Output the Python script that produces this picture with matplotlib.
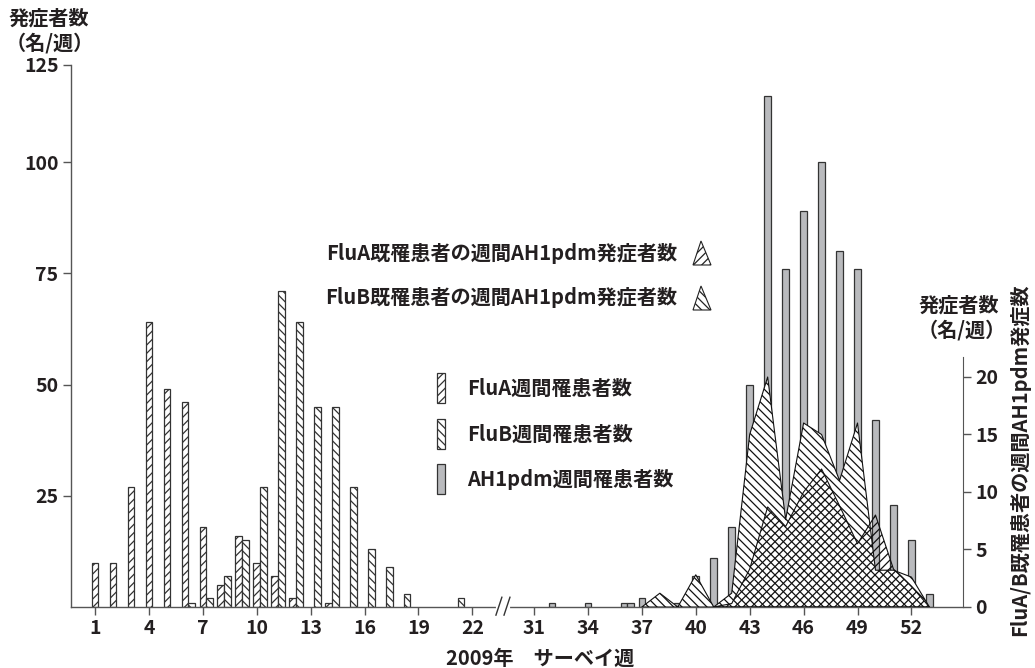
import matplotlib.pyplot as plt
from matplotlib.patches import Rectangle, Polygon
import numpy as np

plt.rcParams['font.family'] = ['Noto Sans CJK JP', 'DejaVu Sans']
plt.rcParams['font.weight'] = 'bold'
plt.rcParams['hatch.linewidth'] = 0.9

# weekly counts (2009 surveillance weeks)
flua_weeks = [1, 2, 3, 4, 5, 6, 7, 8, 9, 10, 11, 12, 14]
flua_cases = [10, 10, 27, 64, 49, 46, 18, 5, 16, 10, 7, 2, 1]
flub_weeks = [6, 7, 8, 9, 10, 11, 12, 13, 14, 15, 16, 17, 18, 21]
flub_cases = [1, 2, 7, 15, 27, 71, 64, 45, 45, 27, 13, 9, 3, 2]
ah1_weeks = [32, 34, 36, 37, 38, 39, 40, 41, 42, 43, 44, 45, 46, 47, 48, 49, 50, 51, 52, 53]
ah1_cases = [1, 1, 1, 2, 2, 1, 7, 11, 18, 50, 117, 76, 89, 100, 80, 76, 42, 23, 15, 3]
ah1_extra_weeks = [36]
ah1_extra_cases = [1]

# AH1pdm onset among previously infected (right axis)
after_b_weeks = list(range(37, 54))
after_b_cases = [0, 1.2, 0, 2.8, 0, 1.2, 15, 20, 7.6, 16, 15, 11, 16, 3.2, 3.2, 2.6, 0]
after_a_weeks = list(range(41, 54))
after_a_cases = [0, 0.3, 3.3, 8.7, 7, 10, 12, 8.8, 5.5, 8, 3.3, 1.8, 0]

tick_weeks = [1, 4, 7, 10, 13, 16, 19, 22, 31, 34, 37, 40, 43, 46, 49, 52]

GAP = 3.43   # axis break between week 22 and 31
BW = 0.37
K = 97 / 111  # top part of left axis is compressed


def week_pos(w):
    w = np.asarray(w, dtype=float)
    return np.where(w <= 22, w, w - 31 + 22 + GAP)


def fwd(y):
    y = np.asarray(y, dtype=float)
    return np.where(y <= 100, y, 100 + (y - 100) * K)


def inv(v):
    v = np.asarray(v, dtype=float)
    return np.where(v <= 100, v, 100 + (v - 100) / K)


W, H = 1035, 668


def px(x, y):
    return x / W, 1 - y / H


TXT = '#231f20'
EDGE = '#333333'
GRAY = '#b9babd'
HA = '////'
HB = '\\\\\\\\'

fig = plt.figure(figsize=(W / 100, H / 100), dpi=100)
ax = fig.add_axes([71 / W, 61 / H, 892 / W, 542 / H])
ax.set_yscale('function', functions=(fwd, inv))

ax.bar(week_pos(flua_weeks), flua_cases, width=BW, facecolor='white',
       edgecolor=EDGE, hatch=HA, lw=0.9)
ax.bar(week_pos(flub_weeks) + BW, flub_cases, width=BW, facecolor='white',
       edgecolor=EDGE, hatch=HB, lw=0.9)
ax.bar(week_pos(ah1_weeks), ah1_cases, width=BW, facecolor=GRAY,
       edgecolor=EDGE, lw=0.9)
ax.bar(week_pos(ah1_extra_weeks) + BW, ah1_extra_cases, width=BW,
       facecolor=GRAY, edgecolor=EDGE, lw=0.9)

ax.set_xlim(-0.336, 49.3)
ax.set_ylim(0, 125)
ax.set_yticks([25, 50, 75, 100, 125])
ax.set_yticklabels(['25', '50', '75', '100', '125'])
ax.set_xticks(week_pos(tick_weeks))
ax.set_xticklabels([str(w) for w in tick_weeks])
ax.tick_params(axis='both', labelsize=14, length=6, width=1,
               color='#555555', labelcolor=TXT, pad=3)
for s in ['top', 'right']:
    ax.spines[s].set_visible(False)
for s in ['left', 'bottom']:
    ax.spines[s].set_color('#555555')
    ax.spines[s].set_linewidth(1)

# right axis with the onset areas
ax2 = ax.twinx()
ax2.fill_between(week_pos(after_b_weeks), after_b_cases, 0, facecolor='white',
                 edgecolor='#111111', hatch=HB, lw=0.8)
ax2.fill_between(week_pos(after_a_weeks), after_a_cases, 0, facecolor='none',
                 edgecolor='#111111', hatch=HA, lw=0.8)
ax2.set_ylim(0, 47.13)
ax2.set_yticks([0, 5, 10, 15, 20])
ax2.spines['right'].set_bounds(0, 21.7)
ax2.spines['right'].set_color('#555555')
for s in ['top', 'left', 'bottom']:
    ax2.spines[s].set_visible(False)
ax2.tick_params(axis='y', labelsize=14, length=6, width=1,
                color='#555555', labelcolor=TXT, pad=3)

# axis break mark
tr = ax.get_xaxis_transform()
ax.plot([23.4, 24.0], [0, 0], color='white', lw=3, transform=tr, clip_on=False, zorder=5)
for x0 in [23.31, 23.76]:
    ax.plot([x0, x0 + 0.33], [-0.015, 0.018], color='#333333', lw=1,
            transform=tr, clip_on=False, zorder=6)

# axis titles
kw = dict(color=TXT, fontsize=14.5, fontweight='bold')
fig.text(*px(49, 18), '発症者数', ha='center', va='center', **kw)
fig.text(*px(50, 43), '（名/週）', ha='center', va='center', **kw)
fig.text(*px(959, 305), '発症者数', ha='center', va='center', **kw)
fig.text(*px(962, 330), '（名/週）', ha='center', va='center', **kw)
fig.text(*px(1020, 460), 'FluA/B既罹患者の週間AH1pdm発症数', rotation=90,
         ha='center', va='center', **kw)
fig.text(*px(540, 658), '2009年　サーベイ週', ha='center', va='center', **kw)

# legend for the areas
fig.text(*px(677, 253), 'FluA既罹患者の週間AH1pdm発症者数', ha='right', va='center', **kw)
fig.text(*px(677, 298), 'FluB既罹患者の週間AH1pdm発症者数', ha='right', va='center', **kw)
for yc, hatch in [(253, HA), (298, HB)]:
    tri = Polygon([px(693, yc + 12), px(711, yc + 12), px(701, yc - 12)],
                  closed=True, facecolor='white', edgecolor='#222222',
                  hatch=hatch, lw=0.8, transform=fig.transFigure)
    fig.add_artist(tri)

# legend for the bars
bar_legend = [('FluA週間罹患者数', 'white', HA, 388),
              ('FluB週間罹患者数', 'white', HB, 434),
              ('AH1pdm週間罹患者数', GRAY, None, 479)]
for label, fc, hatch, yc in bar_legend:
    x0, y0 = px(437, yc + 15)
    rect = Rectangle((x0, y0), 8 / W, 30 / H, facecolor=fc, edgecolor=EDGE,
                     hatch=hatch, lw=0.9, transform=fig.transFigure)
    fig.add_artist(rect)
    fig.text(*px(467, yc), label, ha='left', va='center', **kw)

fig.savefig('out.png', dpi=100)
